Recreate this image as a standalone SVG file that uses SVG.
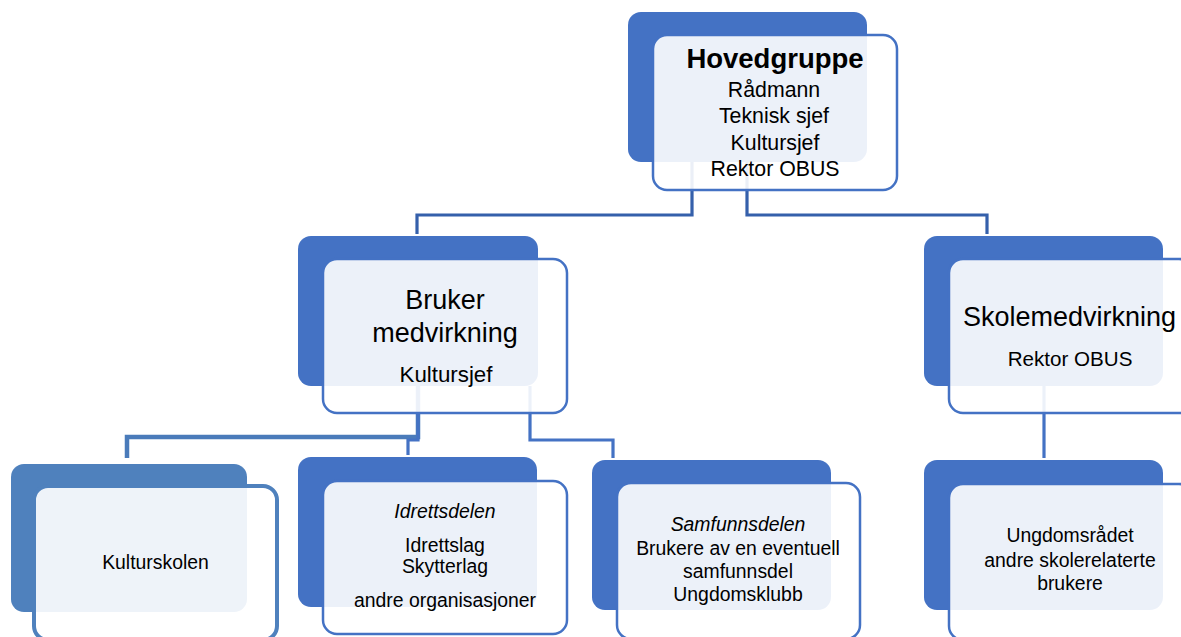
<svg xmlns="http://www.w3.org/2000/svg" width="1181" height="637" viewBox="0 0 1181 637">
<defs>
<style>
.back{fill:#4472C4}
.back2{fill:#4F81BD}
.front{fill:#FFFFFF;fill-opacity:0.9;stroke:#4472C4;stroke-width:2.5}
.front2{fill:#FFFFFF;fill-opacity:0.9;stroke:#4F81BD;stroke-width:4}
.conn{fill:none;stroke:#4472C4;stroke-width:3.2}
.connTop{fill:none;stroke:#3560AB;stroke-width:3.2}
.connK{fill:none;stroke:#4A7BBA;stroke-width:4.5}
text{font-family:"Liberation Sans",Arial,sans-serif;fill:#000;text-anchor:middle}
.h{font-size:27.5px;font-weight:bold}
.l{font-size:21.3px}
.big{font-size:27px}
.s{font-size:19.4px}
.i{font-style:italic}
</style>
</defs>
<rect width="1181" height="637" fill="#FFFFFF"/>
<g id="connectors">
<path class="connTop" d="M692,162 V215 H417 V234"/>
<path class="connTop" d="M747,162 V215 H987 V234"/>
<path class="connK" d="M418,386 V437 H127 V458"/>
<path class="conn" d="M418,386 V440 H408 V455"/>
<path class="conn" d="M530,386 V440 H613 V458"/>
<path class="conn" d="M1044,386 V458"/>
</g>
<g id="hovedgruppe">
<rect class="back" x="628" y="12" width="239" height="150" rx="13"/>
<rect class="front" x="653" y="35" width="244" height="155" rx="14"/>
<text class="h" x="775" y="68">Hovedgruppe</text>
<text class="l" x="774" y="97">Rådmann</text>
<text class="l" x="774" y="123">Teknisk sjef</text>
<text class="l" x="775" y="150">Kultursjef</text>
<text class="l" x="775" y="176">Rektor OBUS</text>
</g>
<g id="brukermedvirkning">
<rect class="back" x="298" y="236" width="240" height="150" rx="13"/>
<rect class="front" x="323" y="259" width="244" height="154" rx="14"/>
<text class="big" x="445" y="309">Bruker</text>
<text class="big" x="445" y="342">medvirkning</text>
<text class="l" x="446" y="382" style="font-size:22.3px">Kultursjef</text>
</g>
<g id="skolemedvirkning">
<rect class="back" x="924" y="236" width="239" height="150" rx="13"/>
<rect class="front" x="949" y="259" width="244" height="154" rx="14"/>
<text class="big" x="1069.5" y="326">Skolemedvirkning</text>
<text class="l" x="1070" y="366" style="font-size:20.6px">Rektor OBUS</text>
</g>
<g id="kulturskolen">
<rect class="back2" x="11" y="464" width="236" height="148" rx="13"/>
<rect class="front2" x="34" y="486" width="243" height="154" rx="14"/>
<text class="s" x="155.5" y="569">Kulturskolen</text>
</g>
<g id="idrettsdelen">
<rect class="back" x="298" y="457" width="239" height="150" rx="13"/>
<rect class="front" x="323" y="481" width="244" height="153" rx="14"/>
<text class="s i" x="445" y="518">Idrettsdelen</text>
<text class="s" x="445" y="552">Idrettslag</text>
<text class="s" x="445" y="573">Skytterlag</text>
<text class="s" x="445" y="607">andre organisasjoner</text>
</g>
<g id="samfunnsdelen">
<rect class="back" x="592" y="460" width="239" height="150" rx="13"/>
<rect class="front" x="617" y="483" width="243" height="156" rx="14"/>
<text class="s i" x="738" y="531">Samfunnsdelen</text>
<text class="s" x="738" y="555">Brukere av en eventuell</text>
<text class="s" x="738" y="578">samfunnsdel</text>
<text class="s" x="738" y="601">Ungdomsklubb</text>
</g>
<g id="ungdomsradet">
<rect class="back" x="924" y="460" width="239" height="150" rx="13"/>
<rect class="front" x="949" y="484" width="244" height="156" rx="14"/>
<text class="s" x="1070" y="542">Ungdomsrådet</text>
<text class="s" x="1070" y="567">andre skolerelaterte</text>
<text class="s" x="1070" y="590">brukere</text>
</g>
</svg>
